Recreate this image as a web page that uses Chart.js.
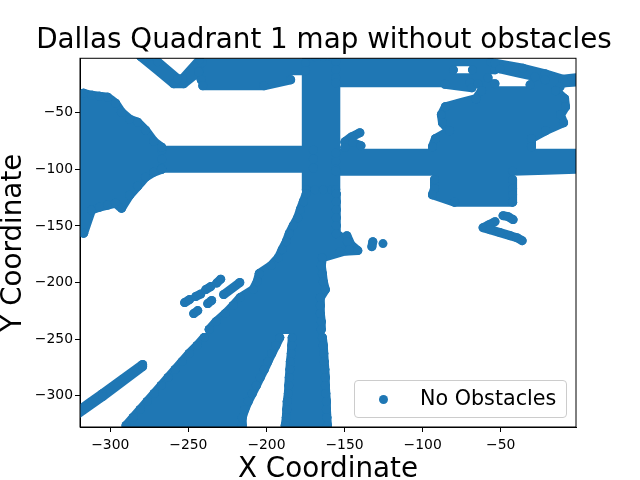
<!DOCTYPE html>
<html lang="en">
<head>
<meta charset="UTF-8">
<title>Dallas Quadrant 1 map without obstacles</title>
<script src="https://cdn.jsdelivr.net/npm/chart.js"></script>
<style>
    body { margin: 0; background: #fff; font-family: 'DejaVu Sans', sans-serif; }
    #wrap { position: relative; width: 640px; height: 480px; }
    #legend {
        position: absolute; left: 354px; top: 380px; width: 211px; height: 36px;
        background: rgba(255, 255, 255, 0.8); border: 1px solid #ccc; border-radius: 4px;
        font-size: 20.7px; line-height: 35px; color: #000;
    }
    #legend i {
        position: absolute; left: 24px; top: 14px; width: 9px; height: 9px;
        border-radius: 50%; background: #1f77b4;
    }
    #legend span { position: absolute; left: 65px; white-space: nowrap; }
</style>
</head>
<body>
<div id="wrap">
    <canvas id="chart" width="640" height="480"></canvas>
    <div id="legend"><i></i><span id="legendText"></span></div>
</div>
<script>
const chartTitle = 'Dallas Quadrant 1 map without obstacles';
const seriesName = 'No Obstacles';
const xTicks = [-300, -250, -200, -150, -100, -50];
const yTicks = [-50, -100, -150, -200, -250, -300];

// scatter tracks, the vehicle sweeps back and forth over each area
const leftBlobX = [-317.1,-317.1,-312,-312,-306.9,-306.9,-301.7,-301.7,-296.6,-296.6,-292.8,-292.8,-287.6,-287.6,-282.5,-282.5,-277.4,-277.4,-272.2,-272.2,-267.1,-267.1];
const leftBlobY = [-32.8,-156.4,-136,-34.6,-35.4,-133.4,-131.6,-36.3,-41.6,-129.9,-134.3,-49.6,-55.7,-122.8,-114.9,-58.4,-65.4,-106.9,-102.5,-75.2,-80.5,-99.9];

const westRoadX = [-267,-170,-170,-267,-267,-170];
const westRoadY = [-83.1,-83.1,-91,-91,-99,-99];

const northRoadX = [-174.5,-174.5,-169,-169,-163.6,-163.6,-158,-158,-155.6,-155.6];
const northRoadY = [-0.5,-118,-118,-0.5,-0.5,-118,-118,-0.5,-0.5,-118];

const southRoadX = [-174.5,-155.3,-155.3,-176.4,-178.3,-155.3,-155.3,-180,-182.8,-155.3,-155.3,-185.4,-187.3,-148.2,-146.9,-189.9,-192.4,-164.2,-164.9,-196.9,-204.6,-164.2,-163.6,-205.9,-208.5,-162.3,-165.5,-216.8,-221.3,-165.5,-165.5,-226.4,-232.2,-164.9,-164.9,-236.7];
const southRoadY = [-121.5,-121.5,-128.6,-128.6,-135.6,-135.6,-142.7,-142.7,-149.7,-149.7,-156.8,-156.8,-163.9,-163.9,-170.9,-170.9,-178,-178,-185,-185,-192.1,-192.1,-199.2,-199.2,-206.2,-206.2,-213.3,-213.3,-220.3,-220.3,-227.4,-227.4,-234.5,-234.5,-241.5,-241.5];

const diagonalX = [-239.9,-191.5,-194,-244.4,-249.5,-196.6,-199.1,-254,-258.5,-201.4,-204,-263,-267.4,-206.5,-209.1,-271.9,-276.4,-211.7,-213.9,-280.9,-285.4,-215.5,-215.5,-289.9];
const diagonalY = [-248.6,-248.6,-255.6,-255.6,-262.7,-262.7,-269.8,-269.8,-276.8,-276.8,-283.9,-283.9,-290.9,-290.9,-298,-298,-305.1,-305.1,-312.1,-312.1,-319.2,-319.2,-326.3,-326.3];

const lowerRoadX = [-183.5,-164.2,-163.6,-183.8,-184.1,-163.3,-163,-184.7,-185,-162.6,-162.3,-185.4,-185.7,-162.3,-162,-186,-186.7,-161.6,-161.6,-187,-187.3,-161.3,-161,-188];
const lowerRoadY = [-248.6,-248.6,-255.6,-255.6,-262.7,-262.7,-269.8,-269.8,-276.8,-276.8,-283.9,-283.9,-290.9,-290.9,-298,-298,-305.1,-305.1,-312.1,-312.1,-319.2,-319.2,-326.3,-326.3];

const topWestX = [-241.2,-175,-175,-243,-241.8,-184.5,-201.7,-240.8];
const topWestY = [-5.9,-5.9,-12.9,-12.9,-20.9,-20.9,-26.2,-26.2];

const vShapeX = [-280.6,-259.4,-253,-243.4,-242.8,-253.7,-256.9,-269.7,-274.8];
const vShapeY = [-0.3,-24.4,-24.4,-13.8,-3.2,-20,-20,-5,-0.3];

const topEastAX = [-155.6,-56.5,-53.7,-68.1];
const topEastAY = [-5,-5,-12.1,-12.1];
const topEastBX = [-80.3,-155.6,-155.6,-58.1,-69.7,-155.6];
const topEastBY = [-12.1,-12.1,-19.1,-19.1,-23.5,-23.5];
const topEastCX = [-85.7,-68.4];
const topEastCY = [-24.8,-27.9];

const stripX = [-53.7,-35.7,-21.6,-10.1,0.9,0.9,-8.8,-21.6,-28,-50.5];
const stripY = [-6.3,-10.7,-15.6,-20.4,-18.7,-22.6,-23.5,-20.9,-18.2,-11.2];

const blockAX = [-64.5,-53.7];
const blockAY = [-24.4,-24.4];
const blockCX = [-31.2,-12];
const blockCY = [-25.3,-27.1];
const blockBX = [-14.9,-62.3,-65.8,-9.1,-8.5,-85.4,-88,-11.7,-9.8,-87.3,-82.8,-21.3,-30.3,-91.8,-93.7,-30.3];
const blockBY = [-30.6,-30.6,-37.6,-37.6,-44.7,-44.7,-51.8,-51.8,-58.8,-58.8,-65.9,-65.9,-72.9,-72.9,-80,-80];

const eastRoadX = [-155.6,0.9,0.9,-155.6,-155.6,0.9,-42.4,-155.6];
const eastRoadY = [-85.7,-85.7,-93.2,-93.2,-99.9,-99.9,-101.6,-101.6];
const blockLowX = [-42.4,-92.4,-92.4,-42.4,-42.4,-93.7,-79.6,-42.4];
const blockLowY = [-109.1,-109.1,-117.1,-117.1,-122.4,-122.4,-129,-129];

const hookAX = [-48.5,-45.3,-42.1];
const hookAY = [-140.9,-141.8,-144.4];
const hookBX = [-53.7,-57.5,-61.3,-56.9,-50.5,-44,-39.6,-36.3];
const hookBY = [-146.2,-148.9,-151.5,-153.3,-155.9,-158.6,-160.4,-163];

const bumpNorthX = [-140.2,-145.3,-149.8,-144.7,-139.5,-149.8];
const bumpNorthY = [-67.7,-71.2,-75.6,-76.4,-79.1,-80.7];
const bumpSouthX = [-148.5,-146,-141.5,-153];
const bumpSouthY = [-158.6,-166.5,-171.8,-172.7];
const dotsAX = [-131.9,-132.5];
const dotsAY = [-163.9,-168.3];
const dotsBX = [-125.4];
const dotsBY = [-165.6];

const farTrackX = [-322.2,-304.9,-279.3,-279.3,-304.9,-322.2];
const farTrackY = [-314.8,-298,-272.4,-274.2,-300.7,-317.4];

const shortAX = [-252.4,-249.2];
const shortAY = [-217.7,-215];
const shortBX = [-245.3,-242.1];
const shortBY = [-212.4,-210.2];
const shortCX = [-238.9,-235.7];
const shortCY = [-206.2,-203.6];
const shortDX = [-231.9,-229.3];
const shortDY = [-200.5,-197];
const shortEX = [-246.6,-244];
const shortEY = [-227.4,-224.8];
const shortFX = [-237.6,-235.1];
const shortFY = [-218.6,-215.9];
const shortGX = [-227.4,-217.1];
const shortGY = [-210.6,-200];

// back and forth sweeps, these also get their two outer edges joined up
const sweeps = [
    [leftBlobX, leftBlobY], [southRoadX, southRoadY], [diagonalX, diagonalY],
    [lowerRoadX, lowerRoadY], [blockBX, blockBY], [blockLowX, blockLowY]
];
const tracks = [
    [westRoadX, westRoadY], [northRoadX, northRoadY], [topWestX, topWestY],
    [vShapeX, vShapeY], [topEastAX, topEastAY], [topEastBX, topEastBY],
    [topEastCX, topEastCY], [stripX, stripY], [blockAX, blockAY], [blockCX, blockCY],
    [eastRoadX, eastRoadY], [hookAX, hookAY], [hookBX, hookBY],
    [bumpNorthX, bumpNorthY], [bumpSouthX, bumpSouthY], [dotsAX, dotsAY], [dotsBX, dotsBY],
    [farTrackX, farTrackY], [shortAX, shortAY], [shortBX, shortBY], [shortCX, shortCY],
    [shortDX, shortDY], [shortEX, shortEY], [shortFX, shortFY], [shortGX, shortGY]
];

// a null point breaks the line between two tracks
const points = [];
function addTrack(xs, ys, keep) {
    xs.forEach((x, i) => {
        if (keep(i)) points.push({ x: x, y: ys[i] });
    });
    points.push({ x: null, y: null });
}
tracks.forEach(t => addTrack(t[0], t[1], () => true));
sweeps.forEach(t => {
    addTrack(t[0], t[1], () => true);
    addTrack(t[0], t[1], i => i % 4 === 0 || i % 4 === 3);
    addTrack(t[0], t[1], i => i % 4 === 1 || i % 4 === 2);
});

document.getElementById('legendText').textContent = seriesName;

const minus = v => String(v).replace('-', '\u2212');
const fixTicks = list => scale => { scale.ticks = list.map(v => ({ value: v })); };

// black box round the plot, and the title centred over the plot instead of the padded area
const frame = {
    id: 'frame',
    afterLayout(chart) {
        chart.titleBlock.left = 24;
        chart.titleBlock.right = 624;
    },
    afterDatasetsDraw(chart) {
        const a = chart.chartArea, c = chart.ctx;
        c.save();
        c.strokeStyle = '#000';
        c.lineWidth = 1;
        c.strokeRect(a.left, a.top, a.right - a.left, a.bottom - a.top);
        c.restore();
    }
};

new Chart(document.getElementById('chart'), {
    type: 'scatter',
    plugins: [frame],
    data: {
        datasets: [{
            label: seriesName,
            data: points,
            showLine: true,
            spanGaps: false,
            clip: 0,
            // a tiny tension keeps Chart.js off its fast path, which merges unsorted x values
            tension: 0.001,
            borderColor: '#1f77b4',
            backgroundColor: '#1f77b4',
            borderWidth: 9,
            borderCapStyle: 'round',
            borderJoinStyle: 'round',
            pointRadius: 4.5,
            pointBorderWidth: 0
        }]
    },
    options: {
        responsive: false,
        animation: false,
        layout: { padding: { right: 64 } },
        plugins: {
            legend: { display: false },
            tooltip: { enabled: false },
            title: {
                display: true,
                text: chartTitle,
                color: '#000',
                font: { family: 'DejaVu Sans', size: 27.78, weight: 'normal', lineHeight: 1 },
                padding: { top: 27, bottom: 3.5 }
            }
        },
        scales: {
            x: {
                type: 'linear',
                min: -319.4,
                max: -1.8,
                afterBuildTicks: fixTicks(xTicks),
                afterFit(scale) { scale.height = 53; },
                grid: { drawOnChartArea: false, color: '#000', tickLength: 5 },
                border: { color: '#000' },
                ticks: { color: '#000', maxRotation: 0, padding: 5, font: { family: 'DejaVu Sans', size: 13.9 }, callback: minus },
                title: { display: true, text: 'X Coordinate', color: '#000', padding: 0, font: { family: 'DejaVu Sans', size: 27.78, lineHeight: 0.75 } }
            },
            y: {
                type: 'linear',
                min: -327.6,
                max: -1.9,
                afterBuildTicks: fixTicks(yTicks),
                afterFit(scale) { scale.width = 80; },
                grid: { drawOnChartArea: false, color: '#000', tickLength: 5 },
                border: { color: '#000' },
                ticks: { color: '#000', padding: 2, font: { family: 'DejaVu Sans', size: 13.9 }, callback: minus },
                title: { display: true, text: 'Y Coordinate', color: '#000', padding: 0, font: { family: 'DejaVu Sans', size: 27.78, lineHeight: 1 } }
            }
        }
    }
});
</script>
</body>
</html>
